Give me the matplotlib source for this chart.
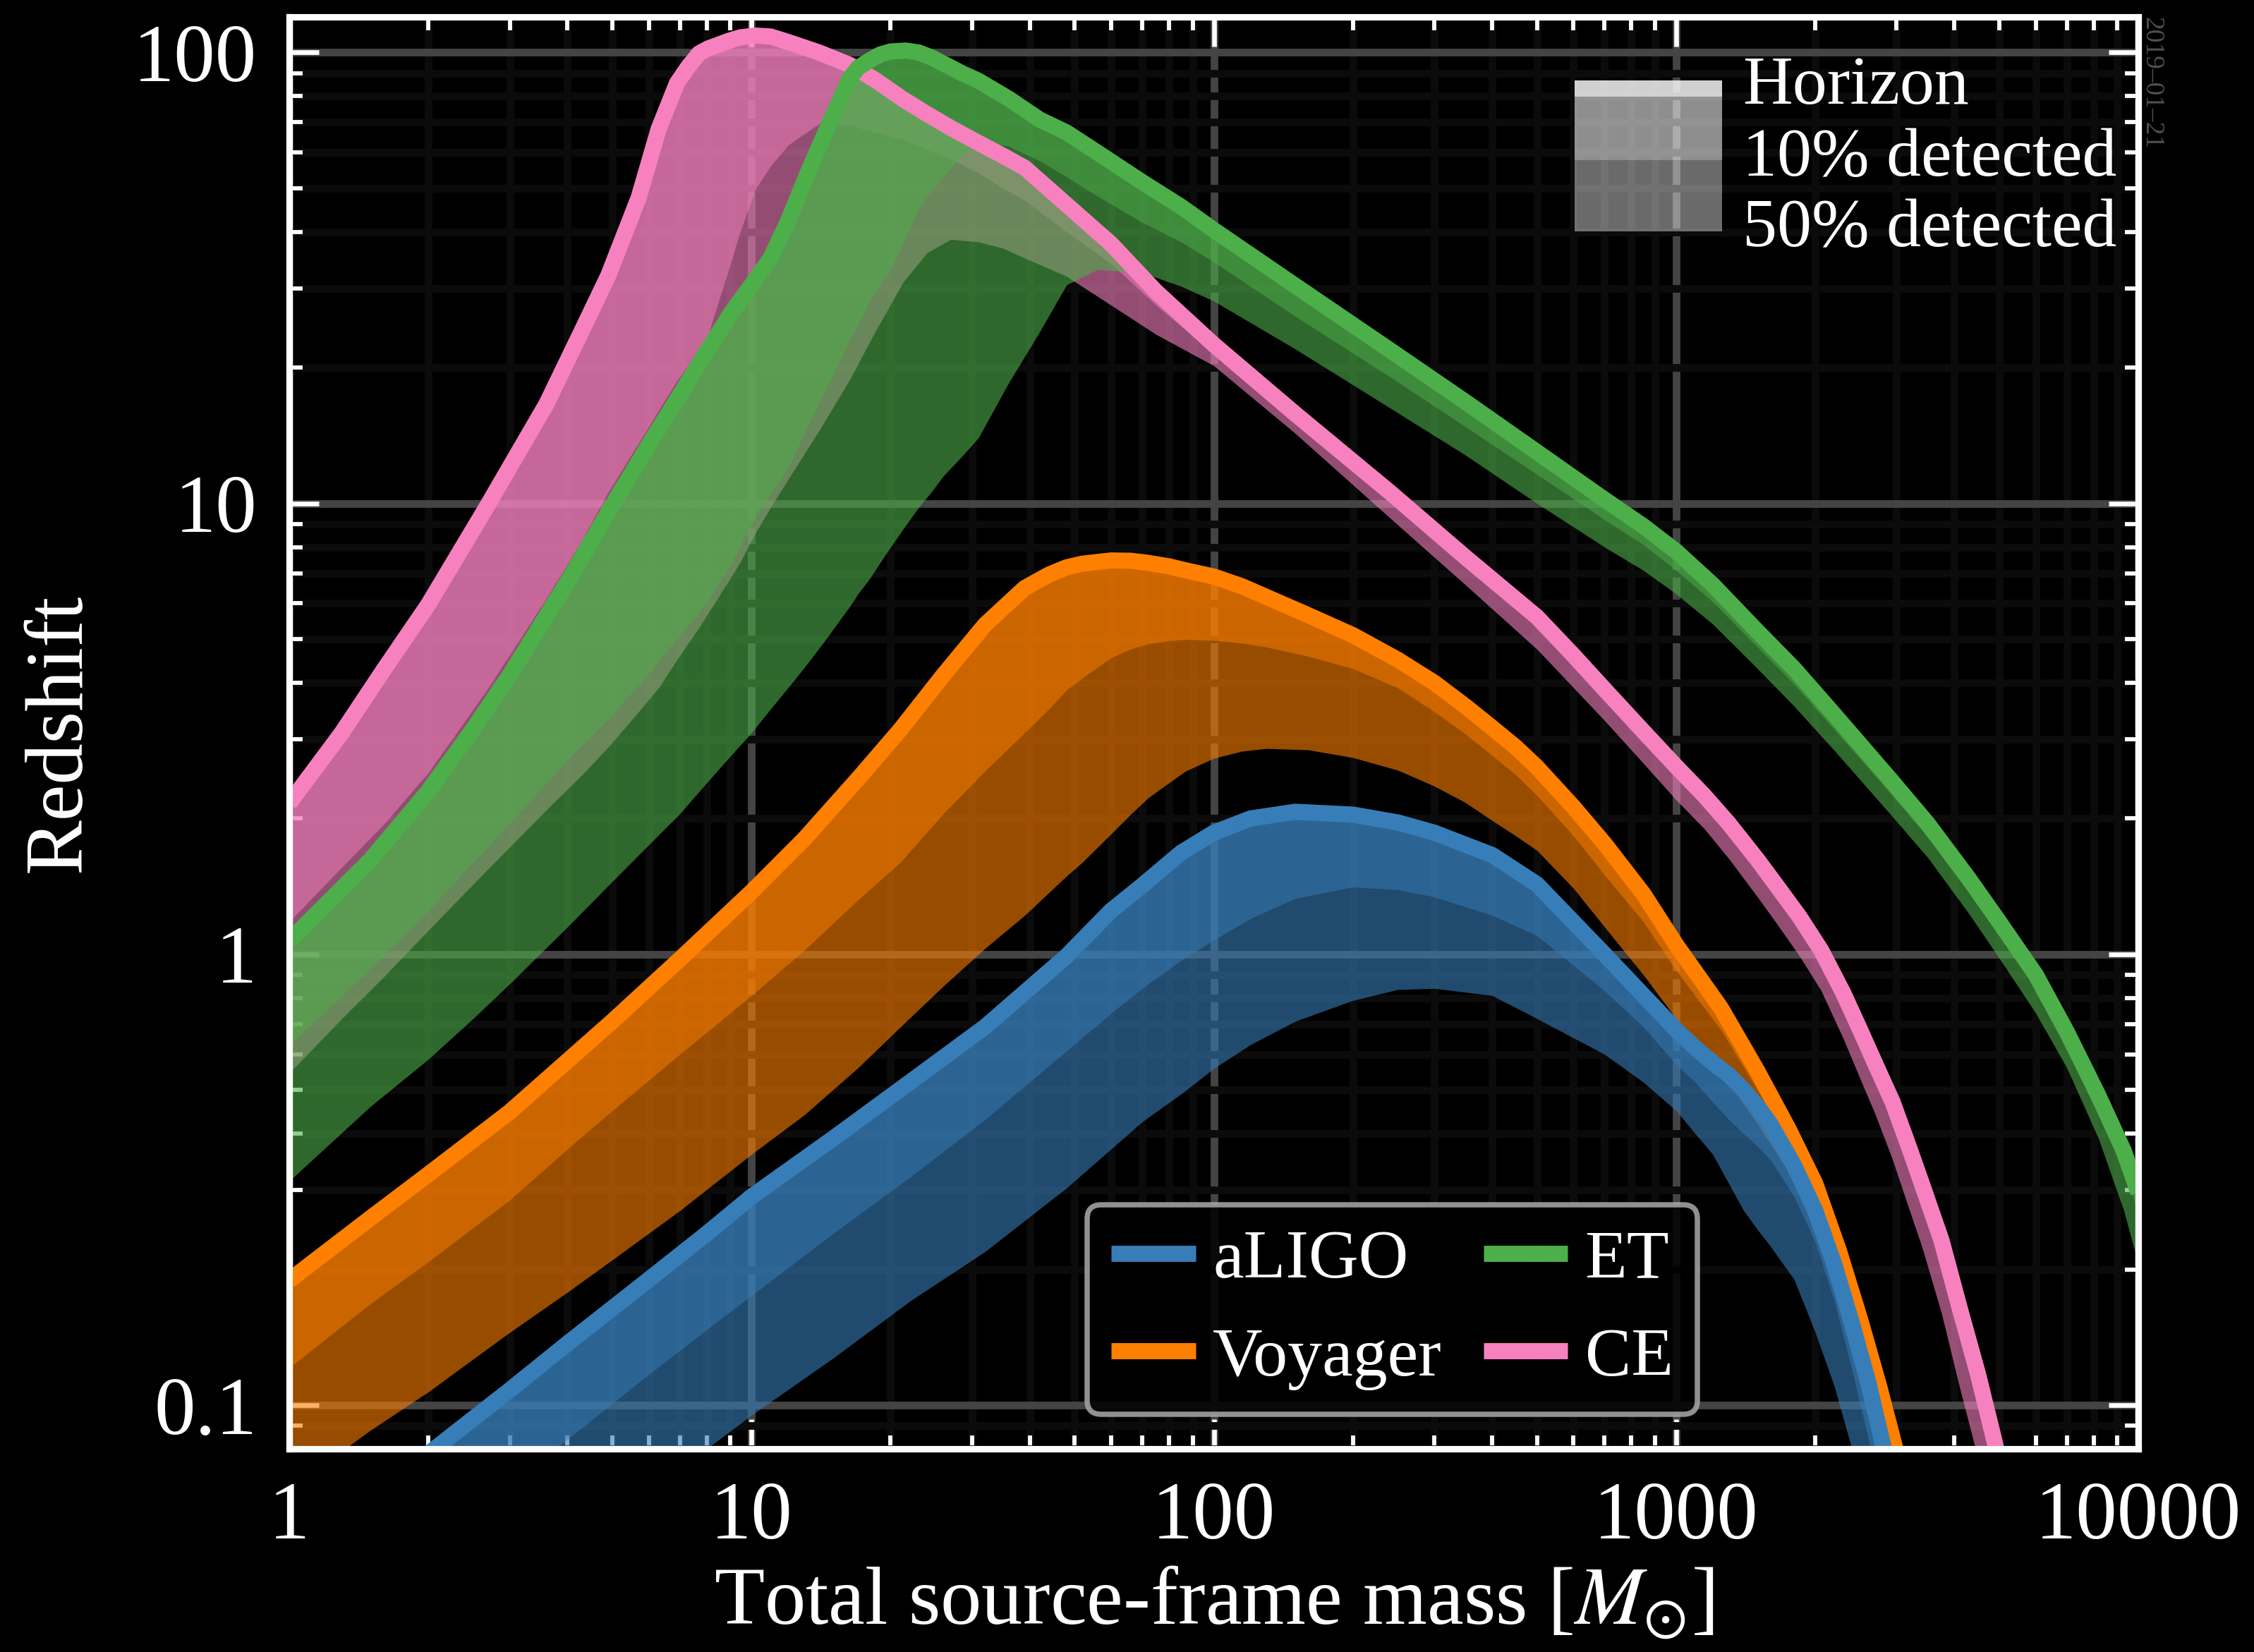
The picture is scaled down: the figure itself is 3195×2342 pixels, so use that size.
import matplotlib
matplotlib.use("Agg")
import matplotlib.pyplot as plt
from matplotlib.lines import Line2D
from matplotlib.patches import Rectangle
from matplotlib import ticker

plt.rcParams["font.family"] = "serif"
plt.rcParams["font.serif"] = ["Liberation Serif", "DejaVu Serif"]
plt.rcParams["mathtext.fontset"] = "stix"

# --- aLIGO ---
aligo_m = [1, 2, 3, 4, 6, 8, 10, 15, 22, 32, 48, 60, 70, 85, 100, 120, 150, 200, 250, 300, 400, 500, 700,
           850, 1000, 1100, 1200, 1300, 1400, 1500, 1600, 1800, 2000, 2200, 2400, 2600, 2800, 3000]
aligo_hor = [0.045, 0.078, 0.108, 0.137, 0.19, 0.24, 0.29, 0.39, 0.52, 0.69, 0.99, 1.25, 1.42, 1.68, 1.86,
             2.0, 2.07, 2.04, 1.96, 1.86, 1.66, 1.43, 1.0, 0.81, 0.68, 0.62, 0.575, 0.54, 0.5, 0.46, 0.42,
             0.34, 0.27, 0.205, 0.152, 0.113, 0.082, 0.06]
aligo_p10 = [0.028, 0.048, 0.067, 0.084, 0.117, 0.147, 0.175, 0.24, 0.32, 0.43, 0.61, 0.74, 0.84, 0.97,
             1.075, 1.2, 1.33, 1.41, 1.39, 1.34, 1.22, 1.1, 0.83, 0.69, 0.57, 0.52, 0.47, 0.43, 0.40, 0.375,
             0.35, 0.29, 0.23, 0.17, 0.12, 0.085, 0.06, 0.045]
aligo_p50 = [0.018, 0.029, 0.040, 0.049, 0.066, 0.08, 0.095, 0.127, 0.17, 0.219, 0.303, 0.37, 0.425, 0.49,
             0.558, 0.63, 0.71, 0.79, 0.835, 0.84, 0.81, 0.72, 0.60, 0.52, 0.45, 0.40, 0.36, 0.31, 0.27,
             0.245, 0.225, 0.19, 0.145, 0.11, 0.08, 0.06, 0.045, 0.035]

# --- Voyager ---
voy_m = [1, 1.5, 2, 3, 4, 5, 7, 10, 13, 17, 21, 26, 32, 39, 44, 48, 52, 60, 66, 72, 80, 87, 100, 115, 130,
         160, 200, 250, 300, 350, 400, 450, 500, 600, 700, 850, 1000, 1250, 1500, 1750, 2000, 2250, 2500,
         2750, 3000, 3200]
voy_hor = [0.189, 0.26, 0.325, 0.447, 0.58, 0.71, 0.975, 1.375, 1.8, 2.45, 3.15, 4.16, 5.38, 6.49, 6.95,
           7.21, 7.35, 7.47, 7.46, 7.38, 7.25, 7.1, 6.88, 6.55, 6.2, 5.65, 5.1, 4.5, 4.0, 3.55, 3.18, 2.88,
           2.6, 2.12, 1.76, 1.36, 1.05, 0.76, 0.55, 0.41, 0.31, 0.22, 0.155, 0.11, 0.078, 0.055]
voy_p10 = [0.121, 0.168, 0.208, 0.285, 0.37, 0.45, 0.6, 0.81, 1.02, 1.32, 1.6, 2.05, 2.55, 3.1, 3.5, 3.85,
           4.1, 4.55, 4.75, 4.88, 4.96, 4.99, 4.97, 4.9, 4.8, 4.58, 4.3, 3.9, 3.45, 3.08, 2.76, 2.5, 2.25,
           1.83, 1.5, 1.18, 0.92, 0.68, 0.5, 0.38, 0.29, 0.21, 0.148, 0.105, 0.07, 0.05]
voy_p50 = [0.065, 0.088, 0.107, 0.145, 0.178, 0.21, 0.27, 0.36, 0.44, 0.56, 0.69, 0.85, 1.03, 1.22, 1.37,
           1.49, 1.6, 1.85, 2.04, 2.22, 2.4, 2.55, 2.72, 2.82, 2.86, 2.84, 2.73, 2.56, 2.36, 2.17, 1.98,
           1.83, 1.70, 1.4, 1.15, 0.9, 0.72, 0.55, 0.42, 0.33, 0.26, 0.19, 0.135, 0.095, 0.065, 0.045]

# --- ET ---
et_m = [1, 1.5, 2, 2.5, 3, 4, 5, 6, 7, 8, 9, 10, 11, 12, 13.3, 14.7, 16.3, 17, 18, 19, 20, 21.5, 23, 24.5,
        26, 28.5, 31, 36, 42, 48, 56, 70, 85, 100, 150, 240, 350, 500, 700, 850, 1000, 1200, 1500, 1800,
        2200, 2900, 3500, 4300, 5000, 6000, 7000, 8200, 9300, 10000]
et_hor = [1.07, 1.62, 2.3, 3.16, 4.16, 6.7, 9.9, 13.5, 17.4, 21.7, 26.3, 30.5, 35, 42.3, 54.8, 69.2, 87.5,
          92.5, 96, 99, 100.5, 101, 100, 97.5, 94.5, 90, 86.5, 79, 71, 66.5, 60, 51.6, 45.5, 40.4, 30.4,
          21.9, 16.8, 13.0, 10.2, 8.9, 7.83, 6.6, 5.2, 4.3, 3.4, 2.45, 1.95, 1.47, 1.18, 0.9, 0.673, 0.485,
          0.366, 0.296]
et_p10 = [0.627, 0.93, 1.25, 1.6, 1.95, 2.7, 3.4, 4.2, 5.1, 6.0, 7.3, 9.0, 10.5, 12.0, 15, 18.5, 23, 25,
          28, 30.5, 33, 38.5, 45, 49.5, 53, 59, 63.5, 62, 57.5, 53, 48, 42, 38, 34.3, 26, 19.1, 14.8, 11.6,
          9.2, 8.1, 7.1, 6.05, 4.8, 3.97, 3.15, 2.28, 1.82, 1.37, 1.1, 0.84, 0.625, 0.45, 0.335, 0.265]
et_p50 = [0.314, 0.46, 0.585, 0.72, 0.86, 1.15, 1.45, 1.75, 2.05, 2.4, 2.75, 3.1, 3.5, 3.9, 4.45, 5.1, 5.9,
          6.3, 6.8, 7.4, 8.0, 8.9, 9.8, 10.6, 11.5, 12.7, 14, 18.5, 24, 30.5, 33, 32.5, 30.3, 28.1, 22,
          16.3, 12.8, 10.0, 8.0, 7.1, 6.3, 5.4, 4.3, 3.55, 2.83, 2.05, 1.64, 1.23, 0.98, 0.74, 0.56, 0.39,
          0.27, 0.205]

# --- CE ---
ce_m = [1, 1.3, 1.6, 2, 2.65, 3.6, 4.3, 4.9, 5.7, 6.3, 6.9, 7.3, 7.7, 8.05, 8.9, 9.45, 10.2, 11, 12, 14,
        16.3, 18.5, 21.3, 24, 27, 31, 35, 39, 48, 60, 75, 100, 150, 240, 350, 500, 600, 700, 850, 1000,
        1150, 1300, 1500, 1650, 1850, 2060, 2300, 2500, 2700, 2940, 3200, 3400, 3750, 4100, 4500, 4900,
        5300]
ce_hor = [2.16, 3.1, 4.27, 5.97, 9.67, 16.6, 24.2, 32, 47.6, 67.7, 85.5, 93, 99.5, 102, 106, 108, 109,
          108.5, 105.5, 100, 93.9, 87, 78.7, 73, 68, 63, 59, 55.5, 46, 37.6, 29.5, 22.5, 15.8, 10.6, 7.6,
          5.6, 4.6, 3.87, 3.12, 2.61, 2.25, 1.95, 1.62, 1.42, 1.21, 1.02, 0.82, 0.68, 0.57, 0.47, 0.37,
          0.31, 0.232, 0.165, 0.117, 0.082, 0.056]
ce_p10 = [1.18, 1.56, 1.94, 2.53, 3.8, 6.15, 8.3, 10.6, 13.6, 16.1, 18.7, 20.3, 22, 23.6, 32.7, 40, 49.8,
          56, 62.3, 69.5, 69, 66.5, 64, 61, 58, 54, 50, 47, 40, 34, 27.5, 21.5, 15.1, 10.1, 7.25, 5.35,
          4.4, 3.7, 2.98, 2.49, 2.15, 1.86, 1.54, 1.35, 1.15, 0.97, 0.775, 0.64, 0.535, 0.44, 0.345,
          0.288, 0.213, 0.15, 0.105, 0.073, 0.049]
ce_p50 = [0.545, 0.72, 0.89, 1.13, 1.52, 2.09, 2.5, 2.88, 3.45, 3.9, 4.5, 4.9, 5.3, 5.7, 6.7, 7.4, 8.6,
          9.8, 11.3, 14.5, 18.8, 24, 31, 36, 38.5, 38, 36.8, 35, 31.9, 27.5, 23.7, 20.2, 14.3, 9.3, 6.6,
          4.75, 3.9, 3.3, 2.65, 2.2, 1.9, 1.63, 1.34, 1.17, 0.99, 0.83, 0.65, 0.53, 0.44, 0.35, 0.27,
          0.225, 0.16, 0.11, 0.076, 0.052, 0.035]

names = ["aLIGO", "Voyager", "ET", "CE"]
colors = ["#377eb8", "#ff7f00", "#4daf4a", "#f781bf"]
x_ticks = [1, 10, 100, 1000, 10000]
y_ticks = [0.1, 1, 10, 100]
date_stamp = "2019\u201301\u201321"

fig = plt.figure(figsize=(10.65, 7.807), facecolor="black")
ax = fig.add_axes([0.1283, 0.1230, 0.8204, 0.8668], facecolor="black")
ax.set_xscale("log")
ax.set_yscale("log")
ax.set_xlim(1, 10000)
ax.set_ylim(0.08, 120)

# grid under everything
ax.set_axisbelow(True)
ax.grid(which="major", color="#444444", lw=2.6)
ax.grid(which="minor", color="#0b0b0b", lw=2.6)

# draw back to front: CE, ET, Voyager, aLIGO
detectors = [
    (ce_m, ce_hor, ce_p10, ce_p50, colors[3]),
    (et_m, et_hor, et_p10, et_p50, colors[2]),
    (voy_m, voy_hor, voy_p10, voy_p50, colors[1]),
    (aligo_m, aligo_hor, aligo_p10, aligo_p50, colors[0]),
]
for m, hor, p10, p50, c in detectors:
    ax.fill_between(m, p50, hor, color=c, alpha=0.6, lw=0)
    ax.fill_between(m, p10, hor, color=c, alpha=0.5, lw=0)
    ax.plot(m, hor, color=c, lw=5.5, solid_capstyle="butt", solid_joinstyle="round")

# axes styling
for sp in ax.spines.values():
    sp.set_color("white")
    sp.set_linewidth(2.2)
ax.tick_params(which="both", direction="in", top=True, right=True, colors="white")
ax.tick_params(which="major", length=10, width=1.6, labelsize=28, pad=11)
ax.tick_params(which="minor", length=4.5, width=1.4)
ax.set_xticks(x_ticks)
ax.set_yticks(y_ticks)
fmt = ticker.FuncFormatter(lambda v, p: "%g" % v)
ax.xaxis.set_major_formatter(fmt)
ax.yaxis.set_major_formatter(fmt)
ax.xaxis.set_minor_formatter(ticker.NullFormatter())
ax.yaxis.set_minor_formatter(ticker.NullFormatter())

ax.set_xlabel(r"Total source-frame mass [$M_{\odot}$]", color="white", fontsize=28, labelpad=3)
ax.set_ylabel("Redshift", color="white", fontsize=28, labelpad=12)

# detector legend
handles = [Line2D([], [], color=c, lw=5.5, solid_capstyle="butt") for c in colors]
leg = ax.legend(handles, names, ncol=2, loc="lower left", bbox_to_anchor=(0.4315, 0.0241),
                borderaxespad=0, fontsize=23.5, frameon=True, facecolor="black",
                edgecolor="#aaaaaa", framealpha=0.85, handlelength=1.22, handletextpad=0.25,
                columnspacing=0.6, labelspacing=0.5, borderpad=0.35)
leg.get_frame().set_linewidth(1.8)
for t in leg.get_texts():
    t.set_color("white")

# band key (top right)
key_labels = ["Horizon", "10% detected", "50% detected"]
key_alpha = [0.82, 0.56, 0.42]
key_bounds = [(0.9443, 0.9557), (0.9000, 0.9443), (0.8502, 0.9000)]
for (y0, y1), a in zip(key_bounds, key_alpha):
    ax.add_patch(Rectangle((0.6952, y0), 0.0797, y1 - y0, transform=ax.transAxes,
                           facecolor="white", alpha=a, lw=0, zorder=5))
for lab, yb in zip(key_labels, [0.9394, 0.8892, 0.8401]):
    ax.text(0.786, yb, lab, transform=ax.transAxes, color="white", fontsize=23.5,
            va="baseline", ha="left", zorder=6)

fig.text(0.9546, 0.9898, date_stamp, rotation=-90, va="top", ha="center",
         color="#505050", fontsize=9)

fig.savefig("out.png", dpi=300, facecolor="black")
